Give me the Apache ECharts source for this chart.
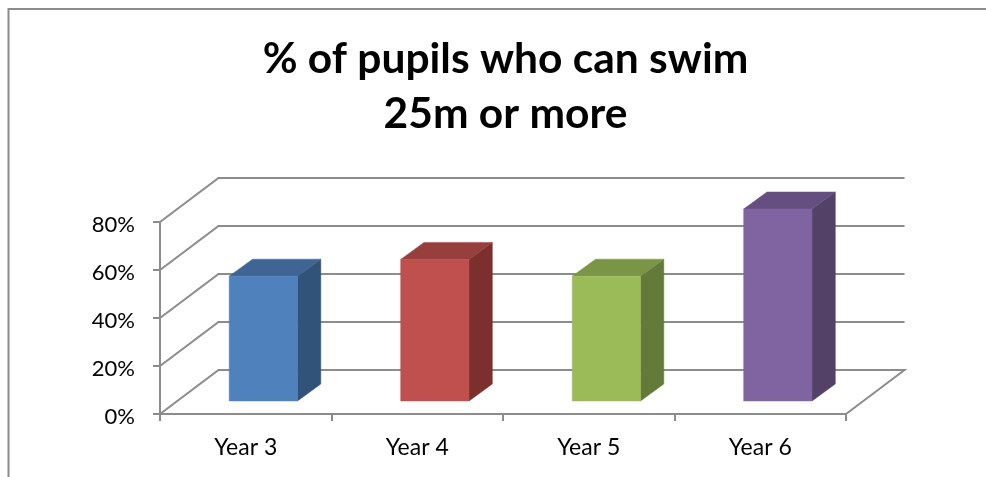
<!DOCTYPE html>
<html>
<head>
<meta charset="utf-8">
<style>html,body{margin:0;padding:0;background:#fff}#c{width:986px;height:477px}</style>
<script src="https://cdn.jsdelivr.net/npm/echarts@6/dist/echarts.min.js"></script>
</head>
<body>
<div id="c"></div>
<script>
const categories = ['Year 3', 'Year 4', 'Year 5', 'Year 6'];
const values = [52, 59, 52, 80];
const wallTicks = [0, 20, 40, 60, 80];
const titleLines = ['% of pupils who can swim', '25m or more'];

const frontColors = ['#4F81BD', '#C0504D', '#9BBB59', '#8064A2'];
const topColors = ['#3F6594', '#973F3C', '#7A9546', '#654F80'];
const sideColors = ['#325379', '#7B302E', '#647A38', '#534168'];
const LINE = '#8C8C8C', FONT = 'Lato, Carlito, Calibri, sans-serif';
const WALL_DX = 58.5, WALL_DY = -44;
const BAR_DX = 17.6, BAR_DY = -13, BAR_W = 68.3, SIDE_DX = 23.3, SIDE_DY = -17;

const chart = echarts.init(document.getElementById('c'), null, {renderer: 'canvas'});
chart.setOption({
  animation: false,
  backgroundColor: '#fff',
  title: {
    text: titleLines.join('\n'), left: 500.5, top: 27, textAlign: 'center',
    textStyle: {fontFamily: FONT, fontWeight: 'bold', fontSize: 42.5, lineHeight: 55, color: '#000'}
  },
  grid: {left: 160, width: 686, top: 222, height: 192, containLabel: false},
  xAxis: {
    type: 'category', data: categories,
    axisLine: {show: true, lineStyle: {color: LINE, width: 2}},
    axisTick: {show: true, length: 7, alignWithLabel: false, lineStyle: {color: LINE, width: 2}},
    axisLabel: {fontFamily: FONT, fontSize: 23, color: '#000', margin: 22},
    splitLine: {show: false}
  },
  yAxis: {
    type: 'value', min: 0, max: 80, interval: 20,
    axisLine: {show: true, lineStyle: {color: LINE, width: 2}},
    axisTick: {show: true, length: 7, lineStyle: {color: LINE, width: 2}},
    axisLabel: {fontFamily: FONT, fontSize: 22, color: '#000', margin: 25, verticalAlign: 'top', lineHeight: 6, formatter: '{value}%'},
    splitLine: {show: false}
  },
  graphic: [
    {type: 'polyline', shape: {points: [[8.5, 477], [8.5, 9], [986, 9]]}, style: {fill: 'none', stroke: LINE, lineWidth: 2}}
  ],
  series: [
    {
      type: 'custom', z: 1, silent: true,
      data: wallTicks.map(v => [0, v]),
      encode: {x: 0, y: 1},
      renderItem: (params, api) => {
        const r = params.coordSys, y = api.coord([0, api.value(1)])[1];
        const pts = [[r.x, y], [r.x + WALL_DX, y + WALL_DY], [r.x + r.width + WALL_DX, y + WALL_DY]];
        if (api.value(1) === 0) pts.push([r.x + r.width, y]);
        return {type: 'polyline', shape: {points: pts}, style: {fill: 'none', stroke: LINE, lineWidth: 2}};
      }
    },
    {
      type: 'custom', z: 2, silent: true,
      data: values.map((v, i) => [i, v]),
      encode: {x: 0, y: 1},
      renderItem: (params, api) => {
        const i = params.dataIndex;
        const base = api.coord([i, 0]), top = api.coord([i, api.value(1)]);
        const xl = base[0] + BAR_DX - BAR_W / 2, xr = xl + BAR_W;
        const yb = base[1] + BAR_DY, yt = top[1] + BAR_DY;
        const poly = (points, fill) => ({type: 'polygon', shape: {points}, style: {fill, stroke: fill, lineWidth: 0.5}});
        return {type: 'group', children: [
          poly([[xr, yb], [xr + SIDE_DX, yb + SIDE_DY], [xr + SIDE_DX, yt + SIDE_DY], [xr, yt]], sideColors[i]),
          poly([[xl, yt], [xr, yt], [xr + SIDE_DX, yt + SIDE_DY], [xl + SIDE_DX, yt + SIDE_DY]], topColors[i]),
          poly([[xl, yb], [xr, yb], [xr, yt], [xl, yt]], frontColors[i])
        ]};
      }
    }
  ]
});
</script>
</body>
</html>
